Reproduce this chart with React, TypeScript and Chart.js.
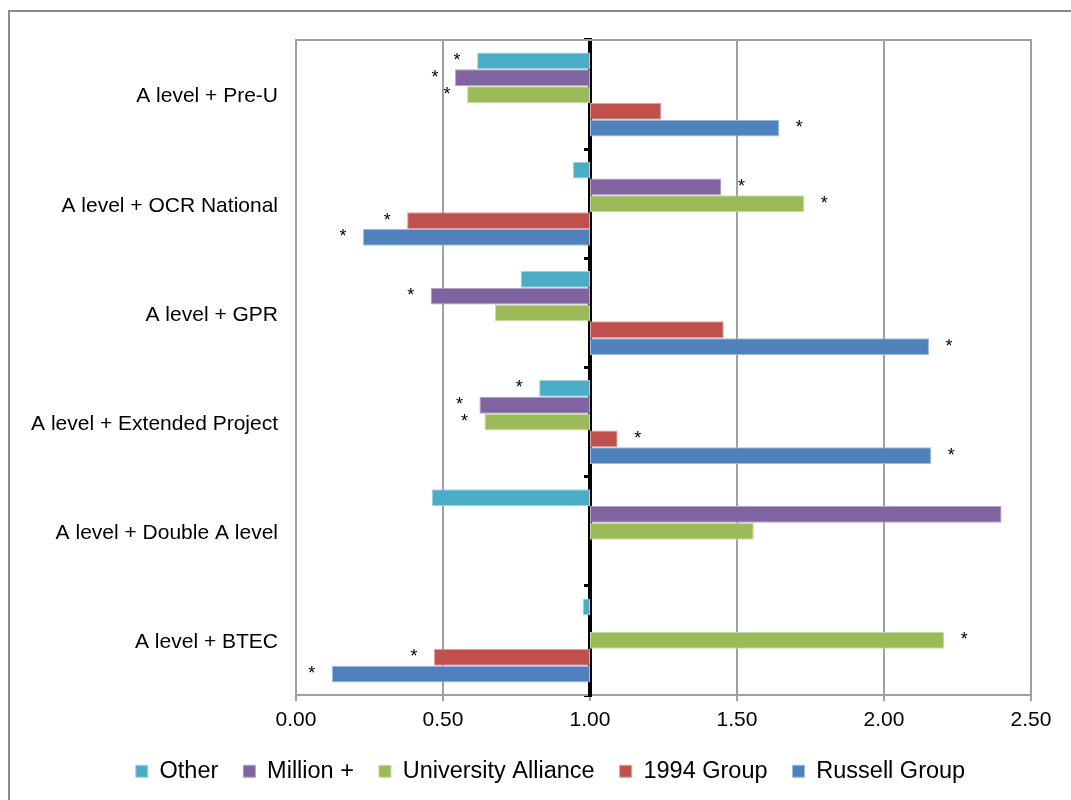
import React, { useEffect, useRef } from 'react';
import { Chart, registerables } from 'chart.js';

Chart.register(...registerables);

// ---- Data ----
const categories = [
  'A level + Pre-U',
  'A level + OCR National',
  'A level + GPR',
  'A level + Extended Project',
  'A level + Double A level',
  'A level + BTEC',
];

const seriesNames = ['Other', 'Million +', 'University Alliance', '1994 Group', 'Russell Group'];

const otherValues = [0.616, 0.942, 0.764, 0.827, 0.462, 0.975];
const millionValues = [0.541, 1.447, 0.458, 0.624, 2.4, null];
const allianceValues = [0.582, 1.729, 0.677, 0.641, 1.557, 2.205];
const group1994Values = [1.243, 0.378, 1.455, 1.094, null, 0.469];
const russellValues = [1.644, 0.228, 2.153, 2.161, null, 0.122];

// significance markers (*)
const otherSig = [true, false, false, true, false, false];
const millionSig = [true, true, true, true, false, false];
const allianceSig = [true, true, false, true, false, true];
const group1994Sig = [false, true, false, true, false, true];
const russellSig = [true, true, true, true, false, true];

const baseline = 1;
const xTickValues = [0, 0.5, 1, 1.5, 2, 2.5];

const seriesValues = [otherValues, millionValues, allianceValues, group1994Values, russellValues];
const seriesSig = [otherSig, millionSig, allianceSig, group1994Sig, russellSig];
const seriesColors = ['#4BACC6', '#8064A2', '#9BBB59', '#C0504D', '#4F81BD'];
const seriesBorders = ['#9fd3e2', '#b3a2c9', '#c6dba0', '#e0a09e', '#9fbbe0'];

const FONT = '"Liberation Sans", Arial, sans-serif';

const starPlugin = {
  id: 'stars',
  afterDatasetsDraw(chart: any) {
    const ctx = chart.ctx;
    const xs = chart.scales.x;
    ctx.save();
    ctx.font = `18px ${FONT}`;
    ctx.fillStyle = '#000';
    ctx.textAlign = 'center';
    ctx.textBaseline = 'middle';
    seriesValues.forEach((vals, di) => {
      const meta = chart.getDatasetMeta(di);
      meta.data.forEach((bar: any, i: number) => {
        const v = vals[i];
        if (v == null || !seriesSig[di][i]) return;
        const end = xs.getPixelForValue(v);
        const px = v >= baseline ? end + 20 : end - 20;
        ctx.fillText('*', px, bar.y);
      });
    });
    ctx.restore();
  },
};

const framePlugin = {
  id: 'frameTop',
  afterLayout(chart: any) {
    if (chart.legend) {
      chart.legend.left += 30;
      chart.legend.right += 30;
    }
  },
  beforeDatasetsDraw(chart: any) {
    const { ctx, chartArea } = chart;
    ctx.save();
    ctx.strokeStyle = '#a0a0a0';
    ctx.lineWidth = 2;
    ctx.beginPath();
    ctx.moveTo(chartArea.left - 1, chartArea.top);
    ctx.lineTo(chartArea.right + 1, chartArea.top);
    ctx.stroke();
    ctx.restore();
  },
};

export default function App() {
  const canvasRef = useRef<HTMLCanvasElement | null>(null);

  useEffect(() => {
    if (!canvasRef.current) return;
    const chart = new Chart(canvasRef.current, {
      type: 'bar',
      data: {
        labels: categories,
        datasets: seriesNames.map((name, di) => ({
          label: name,
          data: seriesValues[di].map((v) => (v == null ? null : [baseline, v])) as any,
          backgroundColor: seriesColors[di],
          borderColor: seriesBorders[di],
          borderWidth: 1,
          borderSkipped: false,
          barPercentage: 1,
          categoryPercentage: 0.77,
          yAxisID: 'y',
          xAxisID: 'x',
        })),
      },
      options: {
        indexAxis: 'y',
        animation: false,
        responsive: false,
        layout: { padding: { left: 0, right: 40, top: 28, bottom: 7 } },
        plugins: {
          legend: {
            position: 'bottom',
            labels: {
              boxWidth: 12,
              boxHeight: 12,
              padding: 25,
              color: '#000',
              font: { size: 23.5, family: FONT },
            },
          },
          tooltip: { enabled: false },
        },
        scales: {
          x: {
            type: 'linear',
            min: 0,
            max: 2.5,
            afterBuildTicks: (s: any) => {
              s.ticks = xTickValues.map((v) => ({ value: v }));
            },
            afterFit: (s: any) => {
              s.height = 39.5;
            },
            ticks: {
              color: '#000',
              padding: 7,
              font: { size: 21, family: FONT },
              callback: (v: any) => Number(v).toFixed(2),
            },
            grid: { color: '#a0a0a0', lineWidth: 2, tickLength: 6, drawTicks: true },
            border: { color: '#a0a0a0', width: 2 },
          },
          y: {
            type: 'category',
            offset: true,
            afterFit: (s: any) => {
              s.width = 286;
              s.paddingTop = 0;
              s.paddingBottom = 0;
            },
            ticks: {
              color: '#000',
              padding: 18,
              labelOffset: 2,
              font: { size: 21, family: FONT },
            },
            grid: { display: false, drawTicks: false },
            border: { display: false },
          },
          yLine: {
            type: 'category',
            axis: 'y',
            position: { x: baseline },
            offset: true,
            z: 1,
            ticks: { display: false },
            grid: {
              drawOnChartArea: false,
              drawTicks: true,
              tickLength: 4,
              color: '#000',
              lineWidth: 3,
              offset: true,
            },
            border: { display: true, color: '#000', width: 4 },
          },
        } as any,
      },
      plugins: [framePlugin, starPlugin],
    });
    return () => chart.destroy();
  }, []);

  return (
    <div
      style={{
        position: 'absolute',
        left: 8,
        top: 10,
        width: 1063,
        height: 790,
        borderLeft: '2px solid #8c8c8c',
        borderTop: '2px solid #8c8c8c',
        boxSizing: 'border-box',
        overflow: 'hidden',
        background: '#fff',
      }}
    >
      <canvas ref={canvasRef} width={1061} height={788} style={{ display: 'block' }} />
    </div>
  );
}
